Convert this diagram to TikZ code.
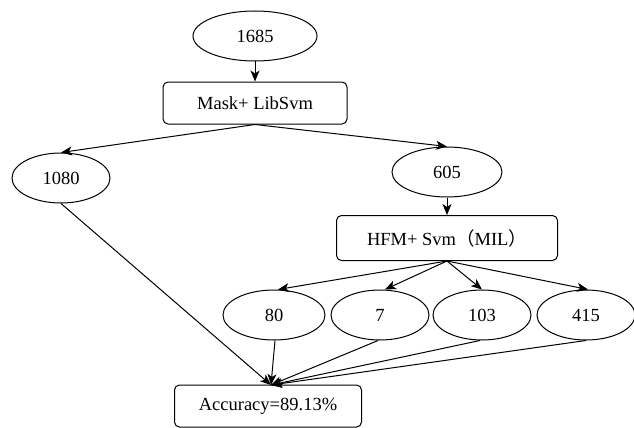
\documentclass[tikz,border=0pt]{standalone}
\usepackage{fontspec}
\setmainfont{Liberation Serif}
\newfontfamily\cjk{Noto Sans CJK SC}
\usetikzlibrary{arrows.meta,shapes.geometric}
\begin{document}
\begin{tikzpicture}[x=1pt,y=-1pt,
  every node/.style={font=\fontsize{18.5}{20}\selectfont, inner sep=0pt},
  oval/.style={draw, line width=1pt, ellipse, minimum width=#1, minimum height=50pt},
  oval/.default=100pt,
  rbox/.style={draw, line width=1pt, rounded corners=5pt, minimum height=42pt},
  conn/.style={line width=1pt, -{Stealth[length=11pt,width=9pt,inset=3pt]}}]
\useasboundingbox[fill=white] (0,0) rectangle (634,428);
\node[oval=124pt] (n1685) at (255,36) {1685};
\node[rbox, minimum width=184pt] (mask) at (255,103) {Mask+ LibSvm};
\node[oval=98pt] (n1080) at (61,178) {1080};
\node[oval=110pt] (n605) at (447,172) {605};
\node[rbox, minimum width=221pt, minimum height=45pt] (hfm) at (447,238) {HFM+ Svm{\cjk （}MIL{\cjk ）}};
\node[oval=102pt] (n80) at (274,315) {80};
\node[oval=98pt] (n7) at (380,315) {7};
\node[oval=98pt] (n103) at (482,315) {103};
\node[oval=98pt] (n415) at (586,315) {415};
\node[rbox, minimum width=187pt] (acc) at (268,406) {Accuracy=89.13\%};
\coordinate (conv) at (271,385);
\draw[conn] (n1685.south) -- (mask.north);
\draw[conn] (mask.south) -- (n1080.north);
\draw[conn] (mask.south) -- (n605.north);
\draw[conn] (n605.south) -- (hfm.north);
\draw[conn] (hfm.south) -- ([xshift=4pt]n80.north);
\draw[conn] (hfm.south) -- ([xshift=5pt]n7.north);
\draw[conn] (hfm.south) -- (n103.north);
\draw[conn] (hfm.south) -- ([xshift=2pt]n415.north);
\draw[conn] (n1080.south) -- (conv);
\draw[conn] ([xshift=1pt]n80.south) -- (conv);
\draw[conn] ([xshift=-2pt]n7.south) -- (conv);
\draw[conn] ([xshift=-2pt]n103.south) -- (conv);
\draw[conn] (n415.south) -- (conv);
\end{tikzpicture}
\end{document}
